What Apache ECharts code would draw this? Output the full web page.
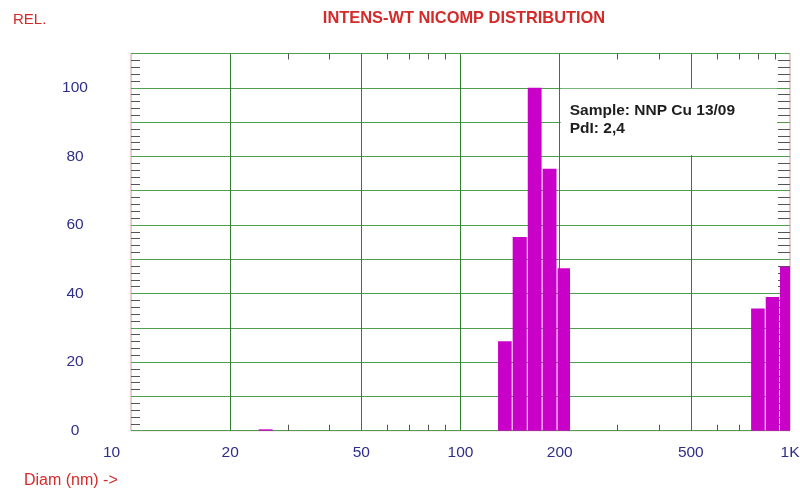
<!DOCTYPE html>
<html>
<head>
<meta charset="utf-8">
<script src="https://cdn.jsdelivr.net/npm/echarts@6/dist/echarts.min.js"></script>
<style>
  html, body { margin: 0; padding: 0; background: #fff; }
  #chart { width: 800px; height: 490px; }
</style>
</head>
<body>
<div id="chart"></div>
<script>
// Intensity-weighted Nicomp size bins: lower / upper diameter (nm) and relative intensity
const binLower = [24.4, 130, 144, 160, 177.5, 197, 762, 844, 932.6];
const binUpper = [27.1, 144, 160, 177.5, 197, 216.5, 844, 932.6, 1033];
const relIntensity = [0.4, 26.1, 56.5, 100, 76.4, 47.4, 35.6, 39.0, 47.8];

// Axis ticks (diameter in nm, relative intensity)
const diamLabels = [10, 20, 50, 100, 200, 500, 1000];
const diamGrid = [20, 50, 100, 200, 500];
const diamMinor = [30, 40, 60, 70, 80, 90, 300, 400, 600, 700, 800, 900];
const relLabels = [0, 20, 40, 60, 80, 100];

const sampleInfo = ['Sample: NNP Cu 13/09', 'PdI: 2,4'];

const lg = Math.log10;
const FONT = '"Liberation Sans", Arial, Helvetica, sans-serif';
const NAVY = '#2e2e8c';
const RED = '#d42a2a';

const chart = echarts.init(document.getElementById('chart'), null, { renderer: 'canvas' });

// x runs in log10(diameter) space so that 10..1000 nm spans two decades
const xCommon = {
  type: 'value', min: 1, max: 3,
  axisLine: { show: false },
  splitLine: { show: false },
  axisLabel: { show: false }
};
const minorX = (pos) => Object.assign({}, xCommon, {
  position: pos,
  axisTick: {
    show: true, inside: true, length: 6,
    customValues: diamMinor.map(lg),
    lineStyle: { color: '#555', width: 1 }
  }
});

const yCommon = {
  type: 'value', min: 0, max: 110, interval: 10,
  axisLine: { show: false },
  axisTick: { show: false, inside: true }
};

chart.setOption({
  animation: false,
  backgroundColor: '#fff',
  grid: {
    left: 131, right: 10, top: 53.5, bottom: 59.3,
    outerBoundsMode: 'none',
    containLabel: false,
    show: true, borderColor: '#cf9a9a', borderWidth: 1, backgroundColor: 'transparent'
  },
  xAxis: [
    Object.assign({}, xCommon, {
      position: 'bottom',
      axisTick: { show: false, customValues: diamGrid.map(lg) },
      splitLine: { show: true, lineStyle: { color: '#2f7f2f', width: 1 } },
      axisLabel: {
        show: true,
        customValues: diamLabels.map(lg),
        margin: 14,
        color: NAVY,
        fontFamily: FONT,
        fontSize: 15.5,
        formatter: function (v) {
          const d = Math.round(Math.pow(10, v));
          if (d === 10) return '{lo|10}';
          return d >= 1000 ? (d / 1000) + 'K' : String(d);
        },
        rich: {
          lo: { color: NAVY, fontFamily: FONT, fontSize: 15.5, padding: [0, 39, 0, 0] }
        }
      }
    }),
    minorX('bottom'),
    minorX('top')
  ],
  yAxis: [
    Object.assign({}, yCommon, {
      position: 'left',
      splitLine: { show: true, lineStyle: { color: '#4f9d4f', width: 1 } },
      minorTick: { show: true, splitNumber: 5, length: 9, lineStyle: { color: '#555', width: 1 } },
      axisLabel: {
        customValues: relLabels,
        margin: 56,
        align: 'center',
        color: NAVY,
        fontFamily: FONT,
        fontSize: 15.5
      }
    }),
    Object.assign({}, yCommon, {
      position: 'right',
      z: 3,
      splitLine: { show: false },
      minorTick: { show: true, splitNumber: 5, length: 12, lineStyle: { color: '#555', width: 1 } },
      axisLabel: { show: false }
    })
  ],
  graphic: [
    {
      type: 'text', x: 464, y: 18,
      style: { text: 'INTENS-WT NICOMP DISTRIBUTION', fill: RED, font: 'bold 16.4px ' + FONT, align: 'center', verticalAlign: 'middle' }
    },
    {
      type: 'text', x: 13, y: 19.5,
      style: { text: 'REL.', fill: RED, font: '15px ' + FONT, align: 'left', verticalAlign: 'middle' }
    },
    {
      type: 'text', x: 24, y: 481,
      style: { text: 'Diam (nm) ->', fill: RED, font: '16px ' + FONT, align: 'left', verticalAlign: 'middle' }
    }
  ],
  series: [
    {
      // sample annotation box, sitting between the 80 and 100 grid lines right of 200 nm
      type: 'custom',
      z: 2,
      silent: true,
      xAxisIndex: 0, yAxisIndex: 0,
      data: [[0]],
      renderItem: function (params, api) {
        const p0 = api.coord([lg(200), 100]);
        const p1 = api.coord([3, 80]);
        return {
          type: 'group',
          children: [
            {
              type: 'rect',
              shape: { x: p0[0] + 1, y: p0[1] + 1, width: p1[0] - p0[0] - 14, height: p1[1] - p0[1] - 2 },
              style: { fill: '#fff' }
            },
            {
              type: 'text',
              x: p0[0] + 10, y: p0[1] + 14,
              style: { text: sampleInfo.join('\n'), fill: '#1e1e1e', font: 'bold 15.5px ' + FONT, lineHeight: 18 }
            }
          ]
        };
      }
    },
    {
      // histogram bars on the log diameter scale
      type: 'custom',
      z: 5,
      xAxisIndex: 0, yAxisIndex: 0,
      encode: { x: [0, 1], y: 2 },
      data: binLower.map((lo, i) => [lg(lo), lg(binUpper[i]), relIntensity[i]]),
      renderItem: function (params, api) {
        const a = api.coord([api.value(0), api.value(2)]);
        const b = api.coord([api.value(1), 0]);
        const cs = params.coordSys;
        const rect = echarts.graphic.clipRectByRect(
          { x: a[0], y: a[1], width: b[0] - a[0] - 1, height: b[1] - a[1] },
          { x: cs.x, y: cs.y, width: cs.width, height: cs.height }
        );
        return rect && { type: 'rect', shape: rect, style: { fill: '#c800c8' } };
      }
    }
  ]
});
</script>
</body>
</html>
